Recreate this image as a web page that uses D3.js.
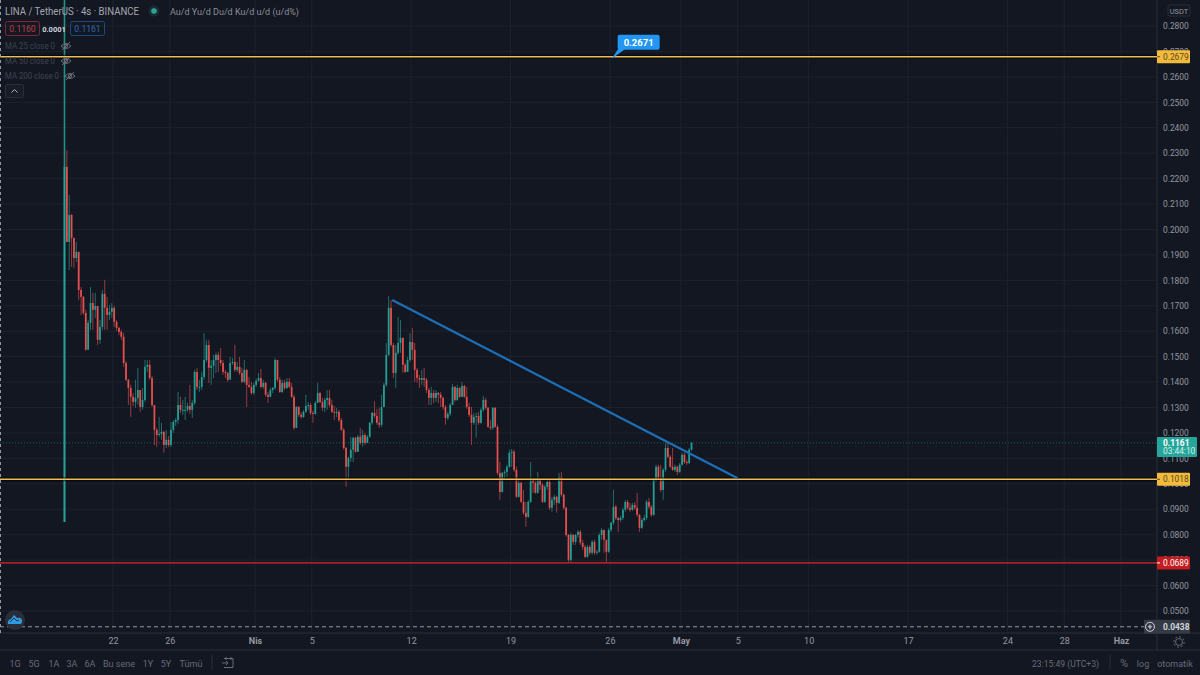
<!DOCTYPE html>
<html lang="en">
<head>
  <meta charset="UTF-8">
  <title>LINA / TetherUS 4s</title>
  <script src="https://d3js.org/d3.v7.min.js"></script>
  <style>
    html, body { margin: 0; padding: 0; background: #131722; overflow: hidden; }
    svg { display: block; }
    text { font-family: Roboto, sans-serif; }
    .tick line { display: none; }
    .domain { display: none; }
  </style>
</head>
<body>
  <div id="viz"></div>
  <script>
    // Candle data (4 hour bars, open = previous close)
    const firstOpen = 0.0850;
    const closes = [
      0.2246,0.1951,0.2057,0.1967,0.1888,0.1912,0.1762,0.1735,0.1672,0.1527,
      0.1633,0.1711,0.1684,0.1699,0.1566,0.1617,0.1747,0.1692,0.1664,0.1676,
      0.1692,0.1637,0.1613,0.1597,0.1578,0.1475,0.1409,0.1377,0.1342,0.1322,
      0.1338,0.1369,0.1302,0.1330,0.1460,0.1468,0.1416,0.1310,0.1212,0.1192,
      0.1196,0.1204,0.1153,0.1173,0.1153,0.1212,0.1243,0.1251,0.1310,0.1291,
      0.1291,0.1291,0.1306,0.1291,0.1318,0.1440,0.1381,0.1381,0.1420,0.1487,
      0.1546,0.1456,0.1464,0.1487,0.1507,0.1487,0.1475,0.1440,0.1436,0.1409,
      0.1475,0.1479,0.1448,0.1460,0.1436,0.1401,0.1448,0.1389,0.1381,0.1357,
      0.1389,0.1405,0.1416,0.1381,0.1397,0.1350,0.1342,0.1369,0.1377,0.1487,
      0.1409,0.1361,0.1397,0.1377,0.1401,0.1381,0.1342,0.1220,0.1302,0.1271,
      0.1263,0.1283,0.1306,0.1310,0.1279,0.1275,0.1318,0.1357,0.1322,0.1299,
      0.1330,0.1338,0.1310,0.1283,0.1279,0.1283,0.1251,0.1212,0.1141,0.1067,
      0.1102,0.1134,0.1181,0.1126,0.1185,0.1161,0.1192,0.1161,0.1185,0.1240,
      0.1279,0.1267,0.1240,0.1232,0.1302,0.1389,0.1507,0.1692,0.1546,0.1436,
      0.1515,0.1554,0.1574,0.1468,0.1440,0.1487,0.1558,0.1527,0.1448,0.1416,
      0.1409,0.1416,0.1409,0.1369,0.1338,0.1357,0.1338,0.1357,0.1350,0.1338,
      0.1302,0.1259,0.1275,0.1310,0.1381,0.1330,0.1377,0.1342,0.1385,0.1342,
      0.1302,0.1271,0.1240,0.1263,0.1267,0.1240,0.1291,0.1330,0.1299,0.1224,
      0.1220,0.1299,0.1224,0.1043,0.0968,0.1043,0.1047,0.1067,0.1122,0.1126,
      0.1055,0.0949,0.1004,0.0929,0.0886,0.0870,0.0929,0.1016,0.1004,0.0965,
      0.1016,0.0996,0.0929,0.0988,0.1008,0.0906,0.0937,0.0949,0.0925,0.1027,
      0.0957,0.0906,0.0799,0.0701,0.0799,0.0772,0.0799,0.0811,0.0768,0.0752,
      0.0713,0.0752,0.0729,0.0772,0.0729,0.0733,0.0799,0.0819,0.0780,0.0733,
      0.0819,0.0847,0.0910,0.0866,0.0858,0.0866,0.0898,0.0929,0.0906,0.0898,
      0.0917,0.0906,0.0878,0.0827,0.0858,0.0866,0.0929,0.0910,0.0878,0.1016,
      0.1067,0.1023,0.0976,0.1055,0.1141,0.1106,0.1067,0.1055,0.1067,0.1047,
      0.1075,0.1114,0.1086,0.1082,0.1134,0.1161
    ];
    const highs = [
      0.2960,0.2312,0.2136,0.2061,0.1967,0.1951,0.1912,0.1774,0.1739,0.1684,
      0.1644,0.1774,0.1751,0.1751,0.1699,0.1644,0.1762,0.1802,0.1735,0.1703,
      0.1711,0.1699,0.1644,0.1617,0.1605,0.1593,0.1483,0.1413,0.1389,0.1357,
      0.1409,0.1456,0.1369,0.1377,0.1487,0.1487,0.1487,0.1424,0.1310,0.1220,
      0.1263,0.1240,0.1208,0.1212,0.1188,0.1243,0.1251,0.1259,0.1361,0.1342,
      0.1330,0.1342,0.1318,0.1389,0.1330,0.1448,0.1456,0.1409,0.1440,0.1593,
      0.1566,0.1566,0.1487,0.1507,0.1515,0.1519,0.1534,0.1487,0.1448,0.1440,
      0.1499,0.1495,0.1546,0.1479,0.1499,0.1456,0.1487,0.1452,0.1420,0.1401,
      0.1397,0.1413,0.1436,0.1452,0.1409,0.1401,0.1361,0.1377,0.1381,0.1495,
      0.1479,0.1420,0.1409,0.1409,0.1416,0.1416,0.1397,0.1350,0.1306,0.1306,
      0.1283,0.1291,0.1350,0.1322,0.1318,0.1287,0.1326,0.1397,0.1361,0.1338,
      0.1338,0.1369,0.1369,0.1330,0.1306,0.1299,0.1291,0.1259,0.1220,0.1145,
      0.1106,0.1185,0.1185,0.1185,0.1192,0.1220,0.1212,0.1200,0.1192,0.1243,
      0.1283,0.1326,0.1295,0.1299,0.1350,0.1397,0.1554,0.1739,0.1723,0.1554,
      0.1546,0.1656,0.1644,0.1574,0.1475,0.1499,0.1593,0.1613,0.1554,0.1456,
      0.1428,0.1448,0.1456,0.1416,0.1377,0.1381,0.1369,0.1369,0.1361,0.1361,
      0.1342,0.1310,0.1283,0.1318,0.1393,0.1385,0.1389,0.1381,0.1401,0.1389,
      0.1381,0.1318,0.1302,0.1279,0.1279,0.1283,0.1299,0.1346,0.1338,0.1302,
      0.1251,0.1302,0.1302,0.1232,0.1086,0.1047,0.1055,0.1075,0.1134,0.1137,
      0.1134,0.1067,0.1016,0.1008,0.0976,0.0929,0.0937,0.1086,0.1023,0.1016,
      0.1047,0.1019,0.1004,0.0996,0.1016,0.1023,0.0949,0.0957,0.0953,0.1043,
      0.1047,0.0961,0.0910,0.0803,0.0807,0.0803,0.0803,0.0819,0.0819,0.0780,
      0.0760,0.0760,0.0760,0.0780,0.0780,0.0740,0.0807,0.0827,0.0819,0.0772,
      0.0827,0.0850,0.0976,0.0917,0.0870,0.0874,0.0906,0.0937,0.0937,0.0925,
      0.0925,0.0929,0.0965,0.0882,0.0866,0.0878,0.0937,0.0945,0.0917,0.1023,
      0.1075,0.1075,0.1075,0.1063,0.1161,0.1161,0.1114,0.1141,0.1075,0.1071,
      0.1082,0.1122,0.1122,0.1094,0.1141,0.1165
    ];
    const lows = [
      0.0850,0.1951,0.1841,0.1853,0.1849,0.1872,0.1723,0.1664,0.1664,0.1523,
      0.1527,0.1605,0.1605,0.1652,0.1546,0.1550,0.1605,0.1605,0.1605,0.1644,
      0.1652,0.1617,0.1601,0.1585,0.1566,0.1460,0.1405,0.1310,0.1263,0.1306,
      0.1299,0.1310,0.1283,0.1291,0.1322,0.1440,0.1409,0.1302,0.1153,0.1145,
      0.1185,0.1173,0.1122,0.1141,0.1145,0.1145,0.1200,0.1228,0.1236,0.1279,
      0.1271,0.1251,0.1283,0.1275,0.1259,0.1310,0.1369,0.1361,0.1369,0.1409,
      0.1479,0.1397,0.1389,0.1416,0.1436,0.1440,0.1464,0.1428,0.1416,0.1401,
      0.1420,0.1468,0.1440,0.1440,0.1428,0.1397,0.1397,0.1302,0.1377,0.1350,
      0.1350,0.1381,0.1401,0.1377,0.1373,0.1342,0.1318,0.1342,0.1357,0.1369,
      0.1401,0.1357,0.1357,0.1369,0.1373,0.1377,0.1338,0.1212,0.1220,0.1263,
      0.1255,0.1259,0.1279,0.1291,0.1271,0.1240,0.1271,0.1318,0.1318,0.1287,
      0.1283,0.1291,0.1302,0.1279,0.1251,0.1263,0.1243,0.1208,0.1134,0.0988,
      0.1023,0.1086,0.1086,0.1122,0.1126,0.1153,0.1145,0.1153,0.1161,0.1181,
      0.1232,0.1259,0.1232,0.1220,0.1224,0.1302,0.1381,0.1503,0.1538,0.1416,
      0.1377,0.1507,0.1515,0.1436,0.1436,0.1440,0.1479,0.1487,0.1401,0.1397,
      0.1377,0.1389,0.1381,0.1357,0.1310,0.1310,0.1318,0.1322,0.1318,0.1302,
      0.1291,0.1232,0.1251,0.1267,0.1310,0.1322,0.1326,0.1338,0.1342,0.1338,
      0.1295,0.1263,0.1153,0.1232,0.1181,0.1232,0.1236,0.1283,0.1291,0.1220,
      0.1212,0.1212,0.1220,0.1035,0.0937,0.0965,0.1023,0.1027,0.1063,0.1067,
      0.1047,0.0945,0.0945,0.0925,0.0878,0.0831,0.0866,0.0925,0.0965,0.0961,
      0.0961,0.0976,0.0925,0.0925,0.0976,0.0898,0.0890,0.0917,0.0886,0.0921,
      0.0949,0.0898,0.0792,0.0693,0.0693,0.0760,0.0760,0.0788,0.0760,0.0740,
      0.0709,0.0709,0.0721,0.0721,0.0721,0.0721,0.0729,0.0780,0.0729,0.0693,
      0.0729,0.0811,0.0839,0.0858,0.0811,0.0850,0.0858,0.0890,0.0898,0.0890,
      0.0894,0.0898,0.0870,0.0811,0.0823,0.0850,0.0858,0.0902,0.0870,0.0874,
      0.1008,0.1016,0.0968,0.0937,0.1047,0.1102,0.1063,0.1051,0.1047,0.1035,
      0.1043,0.1071,0.1078,0.1075,0.1078,0.1130
    ];
    const opens = closes.map((c, i) => i === 0 ? firstOpen : closes[i - 1]);

    // Axis values
    const priceTicks = [0.28,0.27,0.26,0.25,0.24,0.23,0.22,0.21,0.20,0.19,0.18,0.17,0.16,0.15,0.14,0.13,0.12,0.11,0.10,0.09,0.08,0.07,0.06,0.05];
    const timeTicks = ['2021-03-22','2021-03-26','2021-04-01','2021-04-05','2021-04-12','2021-04-19','2021-04-26','2021-05-01','2021-05-05','2021-05-10','2021-05-17','2021-05-24','2021-05-28','2021-06-01'];
    const timeLabels = ['22','26','Nis','5','12','19','26','May','5','10','17','24','28','Haz'];
    const monthLabels = ['Nis','May','Haz'];

    // Drawn levels and trend line
    const yellowLevels = [0.2679, 0.1018];
    const redLevel = 0.0689;
    const lastPrice = 0.1161;
    const lowMark = 0.0438;
    const trendDates = ['2021-04-10T16:00Z', '2021-05-05T00:00Z'];
    const trendPrices = [0.1723, 0.1022];
    const calloutDate = '2021-04-26T03:00Z';
    const calloutPrice = 0.2671;

    // Bottom toolbar
    const rangeLabels = ['1G','5G','1A','3A','6A','Bu sene','1Y','5Y','Tümü'];
    const rangeCenters = [15,34,54,72,90,119,148,166,191];

    const width = 1200, height = 675;
    const plotRight = 1157, plotBottom = 633, toolbarTop = 650;

    const bg = '#131722', grid = '#1e222d', border = '#2a2e39';
    const up = '#26a69a', down = '#ef5350';
    const axisText = '#9598a1', toolText = '#686b76';

    const svg = d3.select('#viz').append('svg')
      .attr('width', width).attr('height', height);

    svg.append('rect').attr('width', width).attr('height', height).attr('fill', bg);

    // Scales
    const y = d3.scaleLinear().domain([0.05, 0.28]).range([611, 26]);
    const x = d3.scaleUtc()
      .domain([new Date('2021-03-22T00:00Z'), new Date('2021-06-01T00:00Z')])
      .range([113, 1121]);

    const firstBar = new Date('2021-03-18T14:00Z');
    const barDates = closes.map((c, i) => d3.utcHour.offset(firstBar, i * 4));
    const tickDates = timeTicks.map(d => new Date(d + 'T00:00Z'));

    // Grid
    svg.append('g').selectAll('line').data(priceTicks).join('line')
      .attr('x1', 0).attr('x2', plotRight)
      .attr('y1', d => y(d)).attr('y2', d => y(d))
      .attr('stroke', grid);
    svg.append('g').selectAll('line').data(tickDates).join('line')
      .attr('x1', d => x(d)).attr('x2', d => x(d))
      .attr('y1', 0).attr('y2', plotBottom)
      .attr('stroke', grid);

    // Axes
    const yAxis = svg.append('g')
      .attr('transform', `translate(1163,0)`)
      .call(d3.axisRight(y).tickValues(priceTicks).tickFormat(d3.format('.4f')).tickSize(0).tickPadding(0));
    yAxis.selectAll('text').attr('fill', axisText).attr('font-size', 8.4);

    const xAxis = svg.append('g')
      .attr('transform', `translate(0,${plotBottom})`)
      .call(d3.axisBottom(x).tickValues(tickDates).tickFormat((d, i) => timeLabels[i]).tickSize(0).tickPadding(5));
    xAxis.selectAll('text')
      .attr('fill', axisText).attr('font-size', 9)
      .attr('font-weight', (d, i) => monthLabels.includes(timeLabels[i]) ? 700 : 400);

    // Frame lines
    svg.append('line').attr('x1', plotRight).attr('x2', plotRight).attr('y1', 0).attr('y2', toolbarTop).attr('stroke', border);
    svg.append('line').attr('x1', 0).attr('x2', width).attr('y1', plotBottom).attr('y2', plotBottom).attr('stroke', border);
    svg.append('line').attr('x1', 0).attr('x2', width).attr('y1', toolbarTop).attr('y2', toolbarTop).attr('stroke', border);

    // Last price line
    svg.append('line')
      .attr('x1', 0).attr('x2', plotRight)
      .attr('y1', y(lastPrice)).attr('y2', y(lastPrice))
      .attr('stroke', up).attr('stroke-opacity', 0.5).attr('stroke-dasharray', '1 2');

    // Candles
    const barIdx = d3.range(closes.length);
    const candles = svg.append('g');
    candles.selectAll('.wick').data(barIdx).join('line')
      .attr('class', 'wick')
      .attr('x1', i => x(barDates[i])).attr('x2', i => x(barDates[i]))
      .attr('y1', i => y(highs[i])).attr('y2', i => y(lows[i]))
      .attr('stroke', i => closes[i] >= opens[i] ? up : down)
      .attr('stroke-width', i => i === 0 ? 1.6 : 0.8)
      .attr('stroke-opacity', i => i === 0 ? 0.85 : 0.75);
    candles.selectAll('.body').data(barIdx).join('rect')
      .attr('class', 'body')
      .attr('x', i => x(barDates[i]) - 0.9)
      .attr('width', 1.8)
      .attr('y', i => y(Math.max(opens[i], closes[i])))
      .attr('height', i => Math.max(1, Math.abs(y(opens[i]) - y(closes[i]))))
      .attr('fill', i => closes[i] >= opens[i] ? up : down)
      .attr('fill-opacity', 0.9);

    // Horizontal levels
    const levels = svg.append('g');
    yellowLevels.forEach(p => {
      levels.append('line').attr('x1', 0).attr('x2', plotRight).attr('y1', y(p)).attr('y2', y(p))
        .attr('stroke', '#000').attr('stroke-opacity', 0.55).attr('stroke-width', 4);
      levels.append('line').attr('x1', 0).attr('x2', plotRight).attr('y1', y(p)).attr('y2', y(p))
        .attr('stroke', '#efbc55').attr('stroke-width', 1.6);
    });
    levels.append('line').attr('x1', 0).attr('x2', plotRight).attr('y1', y(redLevel)).attr('y2', y(redLevel))
      .attr('stroke', '#a82028').attr('stroke-width', 1.8);

    // Trend line
    svg.append('line')
      .attr('x1', x(new Date(trendDates[0]))).attr('y1', y(trendPrices[0]))
      .attr('x2', x(new Date(trendDates[1]))).attr('y2', y(trendPrices[1]))
      .attr('stroke', '#1d6fb8').attr('stroke-width', 2.2);

    // Callout
    const cx = x(new Date(calloutDate)), cy = y(calloutPrice);
    svg.append('path')
      .attr('d', `M${cx},${cy} L${cx + 8},${cy - 12} L${cx + 14},${cy - 10} Z`)
      .attr('fill', '#2196f3');
    svg.append('rect')
      .attr('x', cx + 6).attr('y', cy - 24).attr('width', 42).attr('height', 15).attr('rx', 2)
      .attr('fill', '#2196f3');
    svg.append('text')
      .attr('x', cx + 27).attr('y', cy - 13).attr('text-anchor', 'middle')
      .attr('fill', '#fff').attr('font-size', 9.5).attr('font-weight', 700)
      .text(calloutPrice.toFixed(4));

    // Price labels on the right
    function priceTag(p, fill, color, weight) {
      const py = y(p);
      svg.append('rect').attr('x', plotRight).attr('y', py - 6.5).attr('width', 33).attr('height', 13).attr('rx', 1).attr('fill', fill);
      svg.append('line').attr('x1', plotRight).attr('x2', plotRight + 3).attr('y1', py).attr('y2', py).attr('stroke', color);
      svg.append('text').attr('x', 1163).attr('y', py + 3)
        .attr('fill', color).attr('font-size', 8.4).attr('font-weight', weight).text(p.toFixed(4));
    }
    yellowLevels.forEach(p => priceTag(p, '#f3bb3c', '#5a4a20', 400));
    priceTag(redLevel, '#c41c1f', '#fff', 400);

    // Last price tag with countdown
    const lastY = y(lastPrice);
    svg.append('rect').attr('x', plotRight).attr('y', lastY - 6).attr('width', 40).attr('height', 20).attr('rx', 1).attr('fill', up);
    svg.append('text').attr('x', 1163).attr('y', lastY + 3).attr('fill', '#fff').attr('font-size', 8.4).attr('font-weight', 700).text(lastPrice.toFixed(4));
    svg.append('text').attr('x', 1163).attr('y', lastY + 11.5).attr('fill', '#d5efec').attr('font-size', 8.4).text('03:44:10');

    // Lowest visible mark, dashed lines
    const lowY = y(lowMark);
    svg.append('line').attr('x1', 0).attr('x2', 1144).attr('y1', lowY).attr('y2', lowY)
      .attr('stroke', '#9598a1').attr('stroke-dasharray', '4 3');
    svg.append('line').attr('x1', 0.5).attr('x2', 0.5).attr('y1', 0).attr('y2', plotBottom)
      .attr('stroke', '#9598a1').attr('stroke-dasharray', '3 3');
    svg.append('rect').attr('x', 1144).attr('y', lowY - 7).attr('width', 46).attr('height', 14).attr('fill', '#363a45');
    svg.append('circle').attr('cx', 1150).attr('cy', lowY).attr('r', 4.5).attr('fill', 'none').attr('stroke', '#d1d4dc');
    svg.append('path').attr('d', `M1147.8,${lowY} h4.4 M1150,${lowY - 2.2} v4.4`).attr('stroke', '#d1d4dc');
    svg.append('text').attr('x', 1163).attr('y', lowY + 3).attr('fill', '#d1d4dc').attr('font-size', 8.4).attr('font-weight', 700).text(lowMark.toFixed(4));

    // USDT box
    svg.append('rect').attr('x', 1168).attr('y', 5).attr('width', 22).attr('height', 11).attr('rx', 2)
      .attr('fill', bg).attr('stroke', border);
    svg.append('text').attr('x', 1179).attr('y', 13.5).attr('text-anchor', 'middle').attr('fill', axisText).attr('font-size', 7.5).text('USDT');

    // Header legend
    svg.append('text').attr('x', 5).attr('y', 15).attr('fill', '#a3a6af').attr('font-size', 11)
      .attr('textLength', 134).attr('lengthAdjust', 'spacingAndGlyphs').text('LINA / TetherUS · 4s · BINANCE');
    svg.append('circle').attr('cx', 154).attr('cy', 11).attr('r', 5.5).attr('fill', '#1e2a30');
    svg.append('circle').attr('cx', 154).attr('cy', 11).attr('r', 2.8).attr('fill', up);
    svg.append('text').attr('x', 170).attr('y', 15).attr('fill', '#8a8d97').attr('font-size', 9)
      .attr('textLength', 129).attr('lengthAdjust', 'spacing').text('Au/d Yu/d Du/d Ku/d u/d (u/d%)');

    svg.append('rect').attr('x', 5.5).attr('y', 21.5).attr('width', 34).attr('height', 14).attr('rx', 2).attr('fill', 'none').attr('stroke', '#7d2a35');
    svg.append('text').attr('x', 22.5).attr('y', 31.5).attr('text-anchor', 'middle').attr('fill', '#b8404a').attr('font-size', 8.6).text('0.1160');
    svg.append('text').attr('x', 54).attr('y', 31.5).attr('text-anchor', 'middle').attr('fill', '#d1d4dc').attr('font-size', 7.5).attr('font-weight', 700).text('0.0001');
    svg.append('rect').attr('x', 70.5).attr('y', 21.5).attr('width', 34).attr('height', 14).attr('rx', 2).attr('fill', 'none').attr('stroke', '#1f4a80');
    svg.append('text').attr('x', 87.5).attr('y', 31.5).attr('text-anchor', 'middle').attr('fill', '#2f6aa8').attr('font-size', 8.6).text('0.1161');

    // Hidden MA rows
    const maLabels = ['MA 25 close 0', 'MA 50 close 0', 'MA 200 close 0'];
    const maWidths = [50, 50, 54];
    const eyeX = [66, 66, 70];
    maLabels.forEach((label, i) => {
      const rowY = 46 + i * 15;
      svg.append('text').attr('x', 5).attr('y', rowY + 3).attr('fill', '#3f4350').attr('font-size', 8.6)
        .attr('textLength', maWidths[i]).attr('lengthAdjust', 'spacingAndGlyphs').text(label);
      svg.append('path')
        .attr('d', `M${eyeX[i] - 5},${rowY} Q${eyeX[i]},${rowY - 5} ${eyeX[i] + 5},${rowY} Q${eyeX[i]},${rowY + 5} ${eyeX[i] - 5},${rowY} M${eyeX[i] - 4},${rowY + 4} L${eyeX[i] + 4},${rowY - 4}`)
        .attr('fill', 'none').attr('stroke', '#6a6d78');
      svg.append('circle').attr('cx', eyeX[i]).attr('cy', rowY).attr('r', 1.6).attr('fill', 'none').attr('stroke', '#6a6d78');
    });
    svg.append('rect').attr('x', 5.5).attr('y', 84.5).attr('width', 18).attr('height', 13).attr('rx', 1).attr('fill', '#181c27').attr('stroke', border);
    svg.append('path').attr('d', 'M11.5,92.5 L14.5,89.5 L17.5,92.5').attr('fill', 'none').attr('stroke', '#b2b5be');

    // Logo badge
    svg.append('circle').attr('cx', 15).attr('cy', 620).attr('r', 10).attr('fill', '#2a2e39');
    svg.append('path').attr('d', 'M8,624 Q7,620 11,619 L14,615 L17,618 Q22,617 22,621 Q22,624 20,624 Z').attr('fill', '#2f9be0');
    svg.append('path').attr('d', 'M10,622 L14,618 L17,621 L19,620').attr('fill', 'none').attr('stroke', '#2a2e39');

    // Settings gear
    svg.append('circle').attr('cx', 1179).attr('cy', 642).attr('r', 3.5).attr('fill', 'none').attr('stroke', '#686b76');
    svg.append('circle').attr('cx', 1179).attr('cy', 642).attr('r', 5.2).attr('fill', 'none').attr('stroke', '#686b76').attr('stroke-dasharray', '2 2');

    // Bottom toolbar
    svg.append('g').selectAll('text').data(rangeLabels).join('text')
      .attr('x', (d, i) => rangeCenters[i]).attr('y', 667)
      .attr('text-anchor', 'middle').attr('fill', toolText).attr('font-size', 9)
      .text(d => d);
    svg.append('line').attr('x1', 212).attr('x2', 212).attr('y1', 655).attr('y2', 670).attr('stroke', border);
    svg.append('path').attr('d', 'M224,658.5 h9 v9 h-9 M222,663 h6 M226,661 l2,2 l-2,2 M226,657 v3 M231,657 v3')
      .attr('fill', 'none').attr('stroke', toolText);
    svg.append('text').attr('x', 1032).attr('y', 667).attr('fill', toolText).attr('font-size', 9.5)
      .attr('textLength', 67).attr('lengthAdjust', 'spacingAndGlyphs').text('23:15:49 (UTC+3)');
    svg.append('line').attr('x1', 1110).attr('x2', 1110).attr('y1', 655).attr('y2', 670).attr('stroke', border);
    svg.append('text').attr('x', 1124).attr('y', 667).attr('text-anchor', 'middle').attr('fill', toolText).attr('font-size', 11).text('%');
    svg.append('text').attr('x', 1143).attr('y', 667).attr('text-anchor', 'middle').attr('fill', toolText).attr('font-size', 9).text('log');
    svg.append('text').attr('x', 1175).attr('y', 667).attr('text-anchor', 'middle').attr('fill', toolText).attr('font-size', 9).text('otomatik');
  </script>
</body>
</html>
